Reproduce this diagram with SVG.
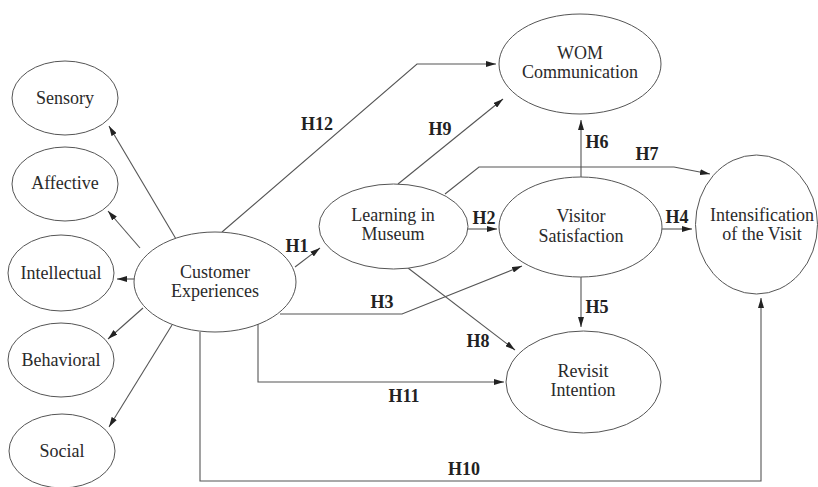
<svg xmlns="http://www.w3.org/2000/svg" width="818" height="487" viewBox="0 0 818 487">
<style>
.node ellipse{fill:#fff;stroke:#555;stroke-width:1}
.node text{font-family:"Liberation Serif","Times New Roman",serif;font-size:18px;fill:#2a2a2a;text-anchor:middle}
.edges path{fill:none;stroke:#555;stroke-width:1.1;marker-end:url(#arr)}
.lbl text{font-family:"Liberation Serif","Times New Roman",serif;font-size:18px;font-weight:bold;fill:#222;text-anchor:middle}
</style>
<defs>
<marker id="arr" viewBox="0 0 10 6" refX="10" refY="3" markerWidth="10" markerHeight="6" markerUnits="userSpaceOnUse" orient="auto">
<path d="M0,0 L10,3 L0,6 z" fill="#222"/>
</marker>
</defs>
<rect width="818" height="487" fill="#fff"/>
<g class="edges" id="connectors">
<path d="M176,239 L109,126"/>
<path d="M140,248 L108,211"/>
<path d="M135,279 L117,279"/>
<path d="M143,308 L108,339"/>
<path d="M172,325 L109,427"/>
<path d="M222,232 L417,64 L496,64"/>
<path d="M295,267 L320,248"/>
<path d="M398,184 L503,99"/>
<path d="M445,194 L479,167 L674,167 L710,174"/>
<path d="M581,177 L581,120"/>
<path d="M468,229 L497,229"/>
<path d="M662,229 L692,229"/>
<path d="M280,314 L402,314 L522,266"/>
<path d="M408,268 L515,350"/>
<path d="M581,277 L581,327"/>
<path d="M258,323 L258,382 L504,382"/>
<path d="M200,332 L200,481 L761,481 L761,298"/>
</g>
<g id="sensory" class="node"><ellipse cx="65" cy="98" rx="53" ry="37"/><text x="65" y="104">Sensory</text></g>
<g id="affective" class="node"><ellipse cx="65" cy="184" rx="53" ry="37"/><text x="65" y="189">Affective</text></g>
<g id="intellectual" class="node"><ellipse cx="61" cy="273" rx="53" ry="38"/><text x="61" y="279">Intellectual</text></g>
<g id="behavioral" class="node"><ellipse cx="61" cy="360" rx="53" ry="37"/><text x="61" y="366">Behavioral</text></g>
<g id="social" class="node"><ellipse cx="62" cy="451" rx="53" ry="37"/><text x="62" y="457">Social</text></g>
<g id="customer" class="node"><ellipse cx="215" cy="282" rx="81" ry="50"/><text x="215" y="278">Customer</text><text x="215" y="297">Experiences</text></g>
<g id="learning" class="node"><ellipse cx="393.5" cy="226.5" rx="74.5" ry="42.5"/><text x="393" y="221">Learning in</text><text x="393" y="240">Museum</text></g>
<g id="wom" class="node"><ellipse cx="580" cy="64" rx="81" ry="50"/><text x="580" y="59">WOM</text><text x="580" y="78">Communication</text></g>
<g id="satisfaction" class="node"><ellipse cx="580.5" cy="227" rx="81.5" ry="50"/><text x="581" y="222">Visitor</text><text x="581" y="242">Satisfaction</text></g>
<g id="intensification" class="node"><ellipse cx="756.5" cy="224.5" rx="61" ry="69.5"/><text x="762" y="221">Intensification</text><text x="762" y="240">of the Visit</text></g>
<g id="revisit" class="node"><ellipse cx="583.5" cy="382" rx="77.5" ry="51"/><text x="583" y="377">Revisit</text><text x="583" y="396">Intention</text></g>
<g class="lbl" id="labels">
<text x="317" y="130">H12</text>
<text x="297" y="252">H1</text>
<text x="440" y="135">H9</text>
<text x="484" y="224">H2</text>
<text x="597" y="148">H6</text>
<text x="647" y="160">H7</text>
<text x="677" y="223">H4</text>
<text x="382" y="308">H3</text>
<text x="597" y="313">H5</text>
<text x="478" y="347">H8</text>
<text x="404" y="402">H11</text>
<text x="464" y="475">H10</text>
</g>
</svg>
